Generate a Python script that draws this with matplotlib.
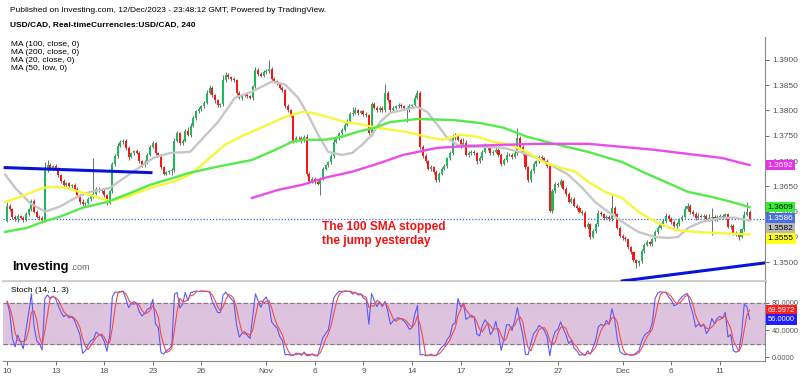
import numpy as np
import pandas as pd
import matplotlib
matplotlib.use("Agg")
import matplotlib.pyplot as plt
import matplotlib.transforms as mtrans

plt.rcParams['font.family'] = ['Liberation Sans', 'DejaVu Sans']

# USD/CAD 4h closes, one row per trading day (6 candles each), Oct 10 -> Dec 12
closes = [
    1.3612, 1.3605, 1.3590, 1.3585, 1.3592, 1.3588,
    1.3584, 1.3595, 1.3605, 1.3622, 1.3600, 1.3590,
    1.3588, 1.3583, 1.3682, 1.3692, 1.3685, 1.3690,
    1.3685, 1.3672, 1.3660, 1.3652, 1.3656, 1.3650,
    1.3652, 1.3645, 1.3632, 1.3620, 1.3615, 1.3618,
    1.3625, 1.3630, 1.3635, 1.3645, 1.3642, 1.3640,
    1.3632, 1.3618, 1.3640, 1.3695, 1.3710, 1.3730,
    1.3738, 1.3740, 1.3725, 1.3708, 1.3715, 1.3720,
    1.3716, 1.3700, 1.3692, 1.3698, 1.3712, 1.3728,
    1.3735, 1.3715, 1.3712, 1.3688, 1.3675, 1.3678,
    1.3680, 1.3683, 1.3740, 1.3755, 1.3735, 1.3740,
    1.3760, 1.3752, 1.3770, 1.3785, 1.3798, 1.3802,
    1.3808, 1.3815, 1.3835, 1.3845, 1.3830, 1.3820,
    1.3810, 1.3812, 1.3860, 1.3870, 1.3865, 1.3862,
    1.3860, 1.3835, 1.3825, 1.3830, 1.3832, 1.3828,
    1.3825, 1.3848, 1.3880, 1.3872, 1.3868, 1.3875,
    1.3878, 1.3882, 1.3862, 1.3858, 1.3855, 1.3845,
    1.3840, 1.3808, 1.3800, 1.3790, 1.3740, 1.3745,
    1.3745, 1.3740, 1.3748, 1.3675, 1.3660, 1.3665,
    1.3658, 1.3655, 1.3665, 1.3685, 1.3692, 1.3698,
    1.3710, 1.3738, 1.3745, 1.3755, 1.3762, 1.3772,
    1.3780, 1.3792, 1.3795, 1.3800, 1.3795, 1.3798,
    1.3792, 1.3790, 1.3755, 1.3812, 1.3805, 1.3800,
    1.3805, 1.3800, 1.3835, 1.3820, 1.3800, 1.3805,
    1.3808, 1.3810, 1.3808, 1.3805, 1.3800, 1.3808,
    1.3810, 1.3825, 1.3835, 1.3728, 1.3710, 1.3700,
    1.3685, 1.3688, 1.3678, 1.3662, 1.3675, 1.3685,
    1.3690, 1.3705, 1.3715, 1.3745, 1.3750, 1.3742,
    1.3730, 1.3735, 1.3712, 1.3715, 1.3718, 1.3715,
    1.3700, 1.3705, 1.3718, 1.3728, 1.3725, 1.3715,
    1.3718, 1.3722, 1.3712, 1.3695, 1.3702, 1.3712,
    1.3712, 1.3708, 1.3715, 1.3745, 1.3728, 1.3715,
    1.3688, 1.3662, 1.3680, 1.3695, 1.3700, 1.3708,
    1.3705, 1.3700, 1.3690, 1.3602, 1.3640, 1.3655,
    1.3652, 1.3660, 1.3645, 1.3635, 1.3620, 1.3625,
    1.3612, 1.3608, 1.3600, 1.3598, 1.3570, 1.3575,
    1.3550, 1.3562, 1.3575, 1.3598, 1.3595, 1.3588,
    1.3590, 1.3585, 1.3608, 1.3595, 1.3568, 1.3552,
    1.3548, 1.3545, 1.3530, 1.3520, 1.3505, 1.3498,
    1.3502, 1.3522, 1.3535, 1.3540, 1.3536, 1.3545,
    1.3560, 1.3568, 1.3575, 1.3582, 1.3592, 1.3585,
    1.3580, 1.3572, 1.3575, 1.3585, 1.3590, 1.3605,
    1.3612, 1.3600, 1.3595, 1.3588, 1.3592, 1.3590,
    1.3592, 1.3585, 1.3588, 1.3590, 1.3585, 1.3590,
    1.3592, 1.3590, 1.3595, 1.3570, 1.3572, 1.3558,
    1.3556, 1.3550, 1.3565, 1.3594, 1.3600, 1.3586,
]
first_open = 1.3582

# wick length beyond the body, in pips
up_wick = [
    7, 3, 3, 4, 3, 2,  3, 4, 3, 3, 2, 3,  3, 3, 16, 10, 4, 3,  4, 3, 3, 5, 3, 2,
    3, 4, 3, 3, 4, 2,  3, 3, 70, 4, 3, 2,  4, 2, 3, 4, 4, 5,  4, 3, 3, 4, 3, 2,
    3, 3, 2, 4, 3, 4,  4, 3, 3, 2, 3, 3,  3, 4, 5, 4, 3, 3,  4, 8, 5, 4, 3, 4,
    3, 4, 5, 6, 3, 2,  3, 2, 10, 5, 3, 2,  4, 3, 3, 3, 2, 3,  3, 3, 5, 4, 3, 4,
    4, 18, 3, 4, 3, 2,  3, 3, 4, 3, 4, 5,  4, 5, 4, 5, 3, 3,  3, 4, 3, 4, 3, 3,
    4, 5, 4, 3, 4, 3,  4, 5, 12, 6, 3, 3,  3, 4, 3, 5, 4, 3,  3, 4, 18, 4, 3, 3,
    3, 5, 4, 3, 2, 4,  3, 5, 5, 4, 3, 4,  3, 4, 3, 4, 3, 3,  4, 3, 4, 8, 5, 4,
    4, 10, 6, 4, 3, 3,  3, 4, 4, 8, 4, 3,  4, 5, 3, 3, 4, 5,  4, 3, 4, 20, 5, 3,
    3, 3, 4, 3, 3, 4,  4, 3, 4, 3, 5, 4,  3, 4, 3, 3, 4, 3,  3, 3, 4, 3, 3, 4,
    3, 4, 3, 5, 3, 3,  4, 3, 25, 3, 3, 3,  3, 4, 3, 3, 3, 2,  3, 4, 3, 4, 3, 3,
    3, 4, 3, 4, 5, 3,  4, 3, 5, 3, 4, 6,  5, 4, 3, 4, 6, 3,  4, 3, 8, 18, 4, 3,
    3, 4, 3, 3, 4, 3,  3, 4, 3, 8, 19, 3,
]
dn_wick = [
    3, 3, 4, 4, 5, 3,  4, 3, 3, 3, 3, 3,  4, 5, 3, 4, 3, 3,  3, 4, 3, 4, 3, 3,
    3, 4, 3, 4, 5, 4,  3, 4, 3, 3, 4, 3,  4, 5, 3, 3, 4, 4,  3, 4, 3, 5, 3, 3,
    3, 4, 3, 4, 3, 3,  3, 4, 3, 4, 3, 3,  3, 8, 4, 3, 3, 4,  3, 3, 4, 3, 3, 4,
    3, 4, 3, 3, 4, 5,  4, 3, 3, 4, 3, 3,  3, 4, 3, 4, 3, 4,  3, 4, 3, 4, 3, 3,
    3, 4, 3, 3, 4, 3,  4, 3, 4, 3, 4, 3,  3, 4, 3, 4, 5, 3,  4, 3, 22, 3, 3, 4,
    3, 4, 3, 3, 4, 3,  3, 4, 3, 3, 4, 3,  3, 4, 4, 5, 3, 3,  3, 4, 3, 4, 3, 4,
    3, 4, 3, 4, 23, 3,  3, 4, 3, 4, 5, 3,  3, 4, 3, 4, 3, 3,  3, 4, 3, 3, 4, 3,
    4, 3, 3, 4, 3, 3,  5, 3, 3, 3, 4, 3,  3, 3, 4, 5, 3, 3,  3, 4, 3, 4, 3, 3,
    3, 4, 3, 3, 4, 3,  3, 4, 3, 3, 5, 4,  3, 4, 3, 4, 3, 3,  3, 4, 3, 4, 3, 4,
    5, 3, 4, 3, 3, 4,  3, 4, 3, 4, 3, 3,  4, 3, 4, 3, 4, 9,  5, 3, 4, 3, 4, 3,
    3, 4, 3, 3, 4, 3,  4, 3, 4, 3, 4, 3,  3, 4, 3, 4, 3, 3,  3, 4, 3, 34, 3, 3,
    3, 4, 3, 3, 4, 5,  4, 6, 3, 3, 3, 3,
]

# date axis: label and trading-day number (6 candles per day)
tick_labels = ['10', '13', '18', '23', '26', 'Nov', '6', '9', '14', '17', '22', '27', 'Dec', '6', '11']
tick_days = [0, 3, 6, 9, 12, 16, 19, 22, 25, 28, 31, 34, 38, 41, 44]

# moving averages (candle index, price)
ma20_idx = [-0.7, 3, 8.5, 14.1, 19.6, 25.2, 30.7, 38.1, 46.7, 54.1, 60.4, 67.8, 78.1, 84.4, 90.7,
            98.1, 103, 107.8, 111.5, 115.2, 118.9, 124.1, 127.8, 131.5, 135.2, 138.1, 141.9, 146.7,
            151.9, 155.6, 159.3, 163, 166.7, 171.5, 177.8, 183.7, 190, 196.3, 201.1, 207.8, 213,
            217.8, 221.5, 227.8, 233.7, 240, 244.8, 248.5, 252.2, 257.4, 264.8, 269.6, 275]
ma20_val = [1.3673, 1.3647, 1.3617, 1.3600, 1.3610, 1.3627, 1.3639, 1.3647, 1.3679, 1.3706, 1.3716,
            1.3718, 1.3777, 1.3825, 1.3837, 1.3857, 1.3851, 1.3825, 1.3791, 1.3752, 1.3718, 1.3712,
            1.3716, 1.3732, 1.3752, 1.3777, 1.3795, 1.3801, 1.3807, 1.3797, 1.3772, 1.3746, 1.3732,
            1.3728, 1.3728, 1.3726, 1.3718, 1.3706, 1.3693, 1.3673, 1.3647, 1.3619, 1.3604, 1.3580,
            1.3560, 1.3550, 1.3548, 1.3550, 1.3568, 1.3580, 1.3588, 1.3588, 1.3582]
ma50_idx = [-0.7, 4.8, 13.3, 17, 22.2, 28.1, 34.4, 38.1, 44.4, 53, 61.5, 67.8, 73.3, 80.7, 88.1,
            96.7, 103, 109.3, 113, 118.9, 125.2, 131.5, 136.3, 141.9, 149.3, 156.7, 161.5, 167.8,
            174.1, 180, 186.3, 192.6, 198.5, 204.8, 210.4, 215.2, 221.5, 227.8, 233.7, 237.4, 242.6,
            247.4, 254.8, 262.2, 269.6, 275]
ma50_val = [1.3619, 1.3629, 1.3647, 1.3649, 1.3647, 1.3637, 1.3627, 1.3621, 1.3629, 1.3647, 1.3659,
            1.3673, 1.3698, 1.3732, 1.3752, 1.3772, 1.3787, 1.3797, 1.3795, 1.3787, 1.3777, 1.3772,
            1.3766, 1.3762, 1.3756, 1.3746, 1.3742, 1.3752, 1.3748, 1.3738, 1.3732, 1.3718, 1.3698,
            1.3687, 1.3679, 1.3659, 1.3639, 1.3627, 1.3600, 1.3588, 1.3574, 1.3564, 1.3560, 1.3558,
            1.3556, 1.3555]
ma100_idx = [-0.7, 7.4, 13.3, 19.6, 28.1, 37, 46.7, 53, 59.3, 67.8, 78.1, 90.7, 99.3, 105.6, 110.4,
             117.8, 124.1, 130, 136.3, 141.9, 151.9, 165.2, 175.2, 183.7, 192.6, 201.1, 215.2, 227.8,
             235.2, 243.7, 252.2, 261.1, 268.5, 275]
ma100_val = [1.3560, 1.3568, 1.3580, 1.3590, 1.3608, 1.3619, 1.3639, 1.3653, 1.3663, 1.3677, 1.3689,
             1.3702, 1.3722, 1.3738, 1.3742, 1.3742, 1.3748, 1.3758, 1.3766, 1.3777, 1.3783, 1.3781,
             1.3775, 1.3766, 1.3748, 1.3736, 1.3718, 1.3698, 1.3679, 1.3659, 1.3639, 1.3629, 1.3619,
             1.3609]
ma200_idx = [90.7, 100.4, 109.3, 117.8, 127.8, 136.3, 146.7, 159.3, 171.5, 183.7, 196.3, 215.2,
             227.8, 240, 252.2, 264.8, 275]
ma200_val = [1.3627, 1.3643, 1.3653, 1.3667, 1.3679, 1.3693, 1.3712, 1.3726, 1.3730, 1.3732, 1.3734,
             1.3734, 1.3728, 1.3722, 1.3714, 1.3706, 1.3692]

# hand-drawn trend lines (candle index, price)
trend1_idx = [-0.7, 53.3]
trend1_px = [1.3687, 1.3677]
trend2_idx = [227.8, 281]
trend2_px = [1.3463, 1.3499]

c = np.array(closes)
o = np.r_[first_open, c[:-1]]
hi = np.maximum(o, c) + np.array(up_wick) * 1e-4
lo = np.minimum(o, c) - np.array(dn_wick) * 1e-4
x = np.arange(len(c))

# stochastic 14,1,3
hh = pd.Series(hi).rolling(14, min_periods=1).max()
ll = pd.Series(lo).rolling(14, min_periods=1).min()
k = 100 * (pd.Series(c) - ll) / (hh - ll)
d = k.rolling(3, min_periods=1).mean()

W, H = 800, 376
fig = plt.figure(figsize=(8, 3.76), dpi=100)
ax = fig.add_axes([3 / W, 1 - 281 / H, 762 / W, 244 / H])
ax2 = fig.add_axes([3 / W, 1 - 361 / H, 762 / W, 79 / H])

# candles
up = c >= o
ax.vlines(x, lo, hi, color='#4d5a52', lw=0.6, zorder=2)
body_h = np.maximum(np.abs(c - o), 0.00006)
ax.bar(x[up], body_h[up], bottom=o[up], width=0.75, color='#1fb85a', zorder=3)
ax.bar(x[~up], body_h[~up], bottom=c[~up], width=0.75, color='#ff1414', zorder=3)

ax.plot(ma20_idx, ma20_val, color='#c6c6c6', lw=1.7, zorder=4)
ax.plot(ma50_idx, ma50_val, color='#f7f73a', lw=1.7, zorder=4)
ax.plot(ma100_idx, ma100_val, color='#55ea4a', lw=1.7, zorder=4)
ax.plot(ma200_idx, ma200_val, color='#ea4cea', lw=1.7, zorder=4)
ax.plot(trend1_idx, trend1_px, color='#0a14d8', lw=2.2, zorder=5)
ax.plot(trend2_idx, trend2_px, color='#0a14d8', lw=2.2, zorder=5)
ax.axhline(c[-1], color='#3c64e6', ls=(0, (1, 1.5)), lw=0.9, zorder=1)

ax.set_xlim(-1.5, 280.7)
ax.set_ylim(1.3463, 1.3945)
ax.set_xticks([])
ax.yaxis.tick_right()
ax.set_yticks(np.arange(1.35, 1.39001, 0.005))
ax.set_yticklabels(['%.4f' % v for v in np.arange(1.35, 1.39001, 0.005)])
ax.tick_params(axis='y', labelsize=6, colors='#555555', length=3, pad=2, width=0.6)
for s in ['left', 'top']:
    ax.spines[s].set_visible(False)
ax.spines['right'].set_color('#888888')
ax.spines['bottom'].set_color('#cccccc')
ax.spines['bottom'].set_linewidth(2)


def stack(vals, gap):
    # push labels apart so the boxes do not overlap
    order = np.argsort(vals)[::-1]
    pos = list(vals)
    prev = None
    for i in order:
        p = vals[i] if prev is None else min(vals[i], prev - gap)
        pos[i] = p
        prev = p
    return pos


tr = mtrans.blended_transform_factory(ax.transAxes, ax.transData)
lab_vals = [ma200_val[-1], ma100_val[-1], c[-1], ma20_val[-1], ma50_val[-1]]
lab_fc = ['#e632e6', '#33f033', '#4a6fe3', '#b8b8b8', '#ffff1e']
lab_tc = ['white', 'black', 'white', 'black', 'black']
for v, p, fc, tc in zip(lab_vals, stack(lab_vals, 0.00198), lab_fc, lab_tc):
    ax.text(1.0035, p, '%.4f' % v, transform=tr, fontsize=6, color=tc, va='center', ha='left',
            bbox=dict(fc=fc, ec='none', pad=1.3), clip_on=False, zorder=10)

# stochastic panel
ax2.axhspan(20, 80, color='#dec3df', zorder=0)
for lvl in (20, 80):
    ax2.axhline(lvl, color='#857585', lw=0.8, ls=(0, (4, 2)), zorder=1)
ax2.plot(x, k, color='#5a5af5', lw=0.8, zorder=3)
ax2.plot(x, d, color='#f54a4a', lw=0.8, zorder=4)
ax2.set_xlim(-1.5, 280.7)
ax2.set_ylim(-5.9, 111.1)
ax2.yaxis.tick_right()
ax2.set_yticks([0, 40, 80])
ax2.set_yticklabels(['0.0000', '40.0000', '80.0000'])
ax2.set_xticks([6 * t for t in tick_days])
ax2.set_xticklabels(tick_labels)
ax2.tick_params(axis='x', labelsize=6, colors='#555555', length=3, pad=2, width=0.6)
ax2.tick_params(axis='y', labelsize=5.4, colors='#555555', length=3, pad=2, width=0.6)
for s in ['left', 'top']:
    ax2.spines[s].set_visible(False)
ax2.spines['right'].set_color('#888888')
ax2.spines['bottom'].set_color('#888888')

tr2 = mtrans.blended_transform_factory(ax2.transAxes, ax2.transData)
st_vals = [d.iloc[-1], k.iloc[-1]]
for v, p, fc in zip(st_vals, stack(st_vals, 14.5), ['#ff1e1e', '#1e1eff']):
    ax2.text(1.0035, p, '%.4f' % v, transform=tr2, fontsize=5.4, color='white', va='center',
             ha='left', bbox=dict(fc=fc, ec='none', pad=1.4), clip_on=False, zorder=10)

# texts
fig.text(10 / W, 1 - 11 / H, 'Published on Investing.com, 12/Dec/2023 - 23:48:12 GMT, Powered by TradingView.',
         fontsize=6, va='center')
fig.text(10 / W, 1 - 25 / H, 'USD/CAD, Real-timeCurrencies:USD/CAD, 240', fontsize=6,
         weight='bold', va='center')
for i, t in enumerate(['MA (100, close, 0)', 'MA (200, close, 0)', 'MA (20, close, 0)', 'MA (50, low, 0)']):
    fig.text(11 / W, 1 - (45 + 8 * i) / H, t, fontsize=6, va='center')
fig.text(11 / W, 1 - 291 / H, 'Stoch (14, 1, 3)', fontsize=6, va='center')
fig.text(322 / W, 1 - 227 / H, 'The 100 SMA stopped', fontsize=8.6, weight='bold',
         color='#f01212', va='center')
fig.text(322 / W, 1 - 241 / H, 'the jump yesterday', fontsize=8.6, weight='bold',
         color='#f01212', va='center')
fig.text(12 / W, 1 - 267 / H, 'Investing', fontsize=9.3, weight='heavy', va='center')
fig.text(70 / W, 1 - 268 / H, '.com', fontsize=6.5, color='#666666', va='center')

fig.savefig('out.png', dpi=100)
